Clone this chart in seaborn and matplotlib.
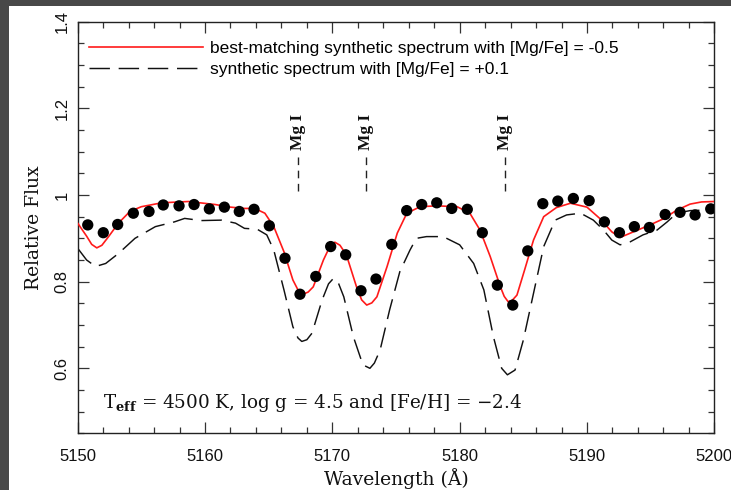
import numpy as np
import pandas as pd
import matplotlib
matplotlib.use("Agg")
import matplotlib.pyplot as plt
from matplotlib.patches import Rectangle
from matplotlib.ticker import MultipleLocator
import seaborn as sns

# ---------------- data ----------------
obs_wave = [5150.79, 5152.01, 5153.14, 5154.37, 5155.60, 5156.72, 5157.96, 5159.14,
            5160.34, 5161.52, 5162.69, 5163.85, 5165.05, 5166.28, 5167.46, 5168.70,
            5169.87, 5171.05, 5172.25, 5173.43, 5174.67, 5175.84, 5177.02, 5178.20,
            5179.38, 5180.60, 5181.78, 5182.96, 5184.17, 5185.35, 5186.53, 5187.71,
            5188.93, 5190.17, 5191.37, 5192.55, 5193.72, 5194.90, 5196.14, 5197.31,
            5198.49, 5199.72]
obs_flux = [0.931, 0.913, 0.932, 0.958, 0.962, 0.977, 0.975, 0.978,
            0.968, 0.972, 0.962, 0.967, 0.929, 0.854, 0.771, 0.812,
            0.881, 0.862, 0.779, 0.806, 0.886, 0.964, 0.978, 0.982,
            0.969, 0.967, 0.913, 0.792, 0.746, 0.871, 0.980, 0.986,
            0.992, 0.987, 0.938, 0.913, 0.927, 0.925, 0.955, 0.960,
            0.954, 0.968]

best_wave = [5150.0, 5150.7, 5151.1, 5151.5, 5151.9, 5152.4, 5153.2, 5154.1, 5155.0,
             5156.6, 5158.7, 5160.8, 5162.0, 5163.1, 5163.9, 5164.7, 5165.4,
             5166.2, 5166.9, 5167.3, 5167.7, 5168.1, 5168.5, 5169.3, 5169.8, 5170.2,
             5170.6, 5171.1, 5171.9, 5172.3, 5172.7, 5173.1, 5173.5, 5174.3, 5175.1,
             5175.85, 5176.9, 5178.2, 5179.8, 5180.8, 5181.6, 5182.4, 5183.2,
             5183.5, 5183.8, 5184.1, 5184.5, 5185.1, 5185.8, 5186.6, 5187.6,
             5188.7, 5190.0, 5191.0, 5191.95, 5192.6, 5193.65, 5194.95, 5196.0,
             5197.05, 5198.1, 5199.0, 5200.0]
best_flux = [0.935, 0.905, 0.886, 0.878, 0.884, 0.903, 0.935, 0.962, 0.973,
             0.982, 0.985, 0.978, 0.972, 0.969, 0.969, 0.958, 0.927,
             0.869, 0.804, 0.781, 0.771, 0.776, 0.788, 0.850, 0.881, 0.891,
             0.884, 0.862, 0.788, 0.758, 0.746, 0.751, 0.765, 0.835, 0.912,
             0.958, 0.973, 0.975, 0.973, 0.958, 0.919, 0.858, 0.788,
             0.766, 0.754, 0.756, 0.769, 0.827, 0.896, 0.950, 0.971,
             0.981, 0.972, 0.946, 0.915, 0.902, 0.915, 0.931, 0.945,
             0.965, 0.979, 0.984, 0.985]

alt_wave = [5150.0, 5150.7, 5151.4, 5152.2, 5153.2, 5154.5, 5156.1, 5157.6, 5158.4,
            5159.7, 5161.3, 5162.4, 5163.1, 5164.1, 5164.85, 5165.4, 5166.2,
            5166.9, 5167.3, 5167.6, 5168.0, 5168.4, 5169.2, 5169.7, 5170.1, 5170.5,
            5170.9, 5171.65, 5172.4, 5172.95, 5173.3, 5173.75, 5174.5, 5175.3, 5176.1,
            5176.6, 5177.4, 5178.7, 5180.0, 5181.1, 5181.9, 5182.65, 5183.3,
            5183.75, 5184.35, 5185.0, 5185.8, 5186.6, 5187.5, 5188.4, 5189.5,
            5190.5, 5191.3, 5191.95, 5192.6, 5193.4, 5194.4, 5195.5, 5196.3,
            5197.05, 5198.1, 5199.1, 5200.0]
alt_flux = [0.877, 0.850, 0.835, 0.842, 0.865, 0.900, 0.927, 0.938, 0.946,
            0.941, 0.942, 0.935, 0.923, 0.921, 0.908, 0.873, 0.781,
            0.696, 0.670, 0.662, 0.666, 0.681, 0.758, 0.795, 0.808, 0.795,
            0.765, 0.673, 0.608, 0.600, 0.612, 0.642, 0.735, 0.823, 0.873,
            0.900, 0.904, 0.904, 0.885, 0.842, 0.781, 0.673, 0.600,
            0.585, 0.596, 0.665, 0.773, 0.881, 0.942, 0.954, 0.958,
            0.942, 0.919, 0.896, 0.885, 0.892, 0.908, 0.919, 0.938,
            0.958, 0.964, 0.965, 0.967]

mg_lines = [5167.32, 5172.68, 5183.60]
mg_label = "Mg I"

label_best = "best-matching synthetic spectrum with [Mg/Fe] = -0.5"
label_alt = "synthetic spectrum with [Mg/Fe] = +0.1"
params_text = r"T$_{\mathbf{eff}}$ = 4500 K, log g = 4.5 and [Fe/H] = $-$2.4"
x_ticks = [5150, 5160, 5170, 5180, 5190, 5200]
y_ticks = [0.6, 0.8, 1.0, 1.2, 1.4]
y_ticklabels = ["0.6", "0.8", "1", "1.2", "1.4"]

# ---------------- style ----------------
plt.rcParams["font.family"] = ["Liberation Sans", "DejaVu Sans"]
plt.rcParams["mathtext.fontset"] = "dejavuserif"
SERIF = ["DejaVu Serif"]

fig = plt.figure(figsize=(7.31, 4.90), dpi=100)
fig.patch.set_facecolor("#484848")
fig.add_artist(Rectangle((9 / 731, 0), 1, (490 - 6) / 490, transform=fig.transFigure,
                         facecolor="white", edgecolor="none", zorder=-5))
ax = fig.add_axes([77.7 / 731, 1 - 433.3 / 490, 636.6 / 731, 411.6 / 490])

df_obs = pd.DataFrame({"wave": obs_wave, "flux": obs_flux})
df_best = pd.DataFrame({"wave": best_wave, "flux": best_flux})
df_alt = pd.DataFrame({"wave": alt_wave, "flux": alt_flux})

sns.lineplot(data=df_alt, x="wave", y="flux", ax=ax, color="#111111", lw=1.05,
             dashes=False, sort=False, label=label_alt, zorder=2)
ax.lines[-1].set_dashes((14, 6))
sns.lineplot(data=df_best, x="wave", y="flux", ax=ax, color="#ff1a1a", lw=1.2,
             sort=False, label=label_best, zorder=3)
sns.scatterplot(data=df_obs, x="wave", y="flux", ax=ax, color="black", s=66,
                edgecolor="none", legend=False, zorder=4)

# Mg I line markers
ax.vlines(mg_lines, 1.01, 1.09, colors="#222222", linewidth=1.0,
          linestyles=(0, (5.5, 4.0)))
for w in mg_lines:
    ax.text(w, 1.105, mg_label, rotation=90, ha="center", va="bottom",
            family=["Liberation Serif"], fontsize=12.5, fontweight="bold", color="#111111")

ax.text(5152.0, 0.52, params_text, ha="left", va="center", family=SERIF,
        fontsize=13.2, color="#111111")

ax.set_xlim(5150, 5200)
ax.set_ylim(0.45, 1.4)
ax.set_xticks(x_ticks)
ax.set_xticklabels([str(t) for t in x_ticks])
ax.set_yticks(y_ticks)
ax.set_yticklabels(y_ticklabels, rotation=90, va="center")
ax.xaxis.set_minor_locator(MultipleLocator(2))
ax.yaxis.set_minor_locator(MultipleLocator(0.05))
ax.tick_params(which="both", direction="in", top=True, right=True, color="#333333",
               width=0.9, labelsize=12, labelcolor="#111111")
ax.tick_params(which="major", length=8)
ax.tick_params(which="minor", length=4)
ax.tick_params(axis="x", pad=11.5)
ax.tick_params(axis="y", pad=6)
for s in ax.spines.values():
    s.set_linewidth(1.0)
    s.set_color("#222222")

ax.set_xlabel("Wavelength (Å)", family=SERIF, fontsize=13.5, color="#111111")
ax.set_ylabel("Relative Flux", family=SERIF, fontsize=13.5, color="#111111")
ax.xaxis.set_label_coords(0.5, -0.085)
ax.yaxis.set_label_coords(-0.054, 0.5)

handles, labels = ax.get_legend_handles_labels()
order = [labels.index(label_best), labels.index(label_alt)]
leg = ax.legend([handles[i] for i in order], [labels[i] for i in order],
                loc="upper left", bbox_to_anchor=(0.017, 0.953), frameon=False,
                fontsize=12.5, handlelength=6.6, handletextpad=0.42,
                labelspacing=0.35, borderpad=0, borderaxespad=0)

fig.savefig("out.png", dpi=100, facecolor=fig.get_facecolor())
